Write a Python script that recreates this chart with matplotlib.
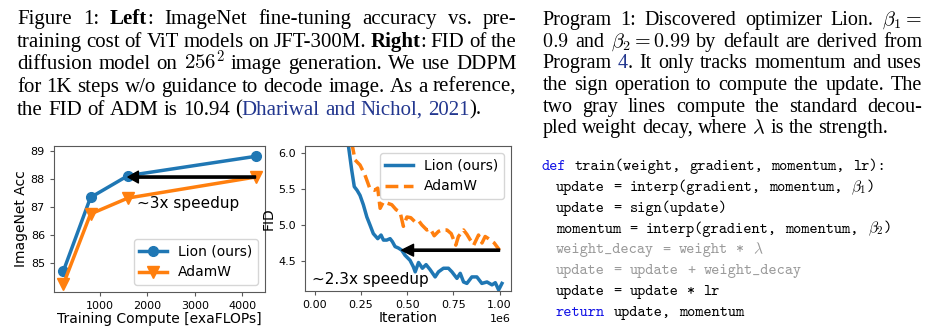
import matplotlib
matplotlib.use('Agg')
import numpy as np
import matplotlib.pyplot as plt
from matplotlib.transforms import IdentityTransform

plt.rcParams['mathtext.fontset'] = 'cm'

# ---- left panel: ViT on JFT-300M ----
compute = [230, 800, 1590, 4280]
lion_acc = [84.71, 87.33, 88.11, 88.80]
adamw_acc = [84.24, 86.74, 87.31, 88.06]

# ---- right panel: diffusion FID (iterations in millions) ----
lion_iter = [0.16, 0.199, 0.213, 0.228, 0.244, 0.262, 0.281, 0.298, 0.316, 0.340,
             0.358, 0.371, 0.389, 0.407, 0.419, 0.434, 0.452, 0.470, 0.488, 0.515,
             0.533, 0.543, 0.561, 0.582, 0.602, 0.624, 0.651, 0.669, 0.696, 0.723,
             0.742, 0.769, 0.787, 0.805, 0.823, 0.850, 0.877, 0.904, 0.932, 0.959,
             0.977, 0.995, 1.013]
lion_fid = [6.50, 5.76, 5.53, 5.48, 5.41, 5.28, 5.11, 5.00, 4.88, 4.81,
            4.86, 4.79, 4.79, 4.81, 4.77, 4.70, 4.68, 4.65, 4.58, 4.51,
            4.42, 4.35, 4.48, 4.40, 4.45, 4.38, 4.28, 4.35, 4.40, 4.40,
            4.35, 4.26, 4.33, 4.21, 4.19, 4.28, 4.28, 4.19, 4.21, 4.17,
            4.20, 4.10, 4.19]
adamw_iter = [0.18, 0.217, 0.244, 0.271, 0.298, 0.322, 0.340, 0.353, 0.371, 0.393,
              0.416, 0.440, 0.461, 0.479, 0.498, 0.519, 0.543, 0.561, 0.579, 0.606,
              0.624, 0.646, 0.669, 0.687, 0.715, 0.738, 0.763, 0.777, 0.805, 0.823,
              0.842, 0.860, 0.886, 0.905, 0.922, 0.940, 0.971, 1.000]
adamw_fid = [6.40, 5.90, 5.83, 5.69, 5.50, 5.48, 5.51, 5.23, 5.32, 5.30,
             5.28, 5.21, 5.18, 4.98, 5.11, 5.10, 5.04, 5.06, 5.00, 4.93,
             4.95, 4.85, 4.91, 4.93, 4.93, 4.88, 4.72, 4.84, 4.93, 4.87,
             4.79, 4.72, 4.86, 4.75, 4.84, 4.81, 4.75, 4.65]
fid_speedup_iter = 0.47
iter_ticks = [0, 0.25, 0.5, 0.75, 1.0]

# ---- text blocks ----
caption_lines = [
    [("Figure 1: ", "n"), ("Left", "b"), (": ImageNet fine-tuning accuracy vs. pre-", "n")],
    [("training cost of ViT models on JFT-300M. ", "n"), ("Right", "b"), (": FID of the", "n")],
    [("diffusion model on ", "n"), ("$256^2$", "m"), (" image generation. We use DDPM", "n")],
    [("for 1K steps w/o guidance to decode image. As a reference,", "n")],
    [("the FID of ADM is 10.94 (", "n"), ("Dhariwal and Nichol, 2021", "c"), (").", "n")],
]
program_lines = [
    [("Program 1: Discovered optimizer Lion. ", "n"), (r"$\beta_1 =$", "m")],
    [("$0.9$", "m"), (" and ", "n"), (r"$\beta_2 = 0.99$", "m"), (" by default are derived from", "n")],
    [("Program ", "n"), ("4", "c"), (". It only tracks momentum and uses", "n")],
    [("the sign operation to compute the update. The", "n")],
    [("two gray lines compute the standard decou-", "n")],
    [("pled weight decay, where ", "n"), (r"$\lambda$", "m"), (" is the strength.", "n")],
]
code_lines = [
    "def train(weight, gradient, momentum, lr):",
    r"  update = interp(gradient, momentum, $\beta_1$)",
    "  update = sign(update)",
    r"  momentum = interp(gradient, momentum, $\beta_2$)",
    r"  weight_decay = weight * $\lambda$",
    "  update = update + weight_decay",
    "  update = update * lr",
    "  return update, momentum",
]

BLUE = '#1f77b4'
ORANGE = '#ff7f0e'
CITE = '#23378f'
KEYWORD = '#1414e6'
GRAY = '#9a9a9a'

W, H = 936, 334
fig = plt.figure(figsize=(W / 100, H / 100), dpi=100)


def box(l, t, r, b):
    return [l / W, 1 - b / H, (r - l) / W, (b - t) / H]


def style_axes(ax):
    for sp in ax.spines.values():
        sp.set_color('0.35')
        sp.set_linewidth(0.8)
    ax.tick_params(labelsize=8, color='0.35', length=3)


# left panel
ax1 = fig.add_axes(box(54, 146, 265, 292))
ax1.plot(compute, lion_acc, '-o', color=BLUE, lw=2.5, ms=7, label='Lion (ours)')
ax1.plot(compute, adamw_acc, '-v', color=ORANGE, lw=2.5, ms=8, label='AdamW')
ax1.annotate('', xy=(compute[2], adamw_acc[-1]), xytext=(compute[-1], adamw_acc[-1]),
             arrowprops=dict(facecolor='black', edgecolor='black', width=1.6,
                             headwidth=8.5, headlength=7.5, shrink=0))
ax1.text(1790, 87.13, '\u223c3x speedup', fontsize=11, va='center')
ax1.set_xlim(30, 4480)
ax1.set_ylim(83.95, 89.17)
ax1.set_xticks([1000, 2000, 3000, 4000])
ax1.set_yticks([85, 86, 87, 88, 89])
ax1.set_xlabel('Training Compute [exaFLOPs]', fontsize=10, labelpad=1)
ax1.set_ylabel('ImageNet Acc', fontsize=10, labelpad=2)
ax1.legend(loc='lower right', fontsize=10)
style_axes(ax1)

# right panel
ax2 = fig.add_axes(box(305, 146, 511, 291))
ax2.plot(np.array(lion_iter) * 1e6, lion_fid, '-', color=BLUE, lw=2.5, label='Lion (ours)')
ax2.plot(np.array(adamw_iter) * 1e6, adamw_fid, '--', color=ORANGE, lw=2.5, label='AdamW')
ax2.annotate('', xy=(fid_speedup_iter * 1e6, adamw_fid[-1]),
             xytext=(adamw_iter[-1] * 1e6, adamw_fid[-1]),
             arrowprops=dict(facecolor='black', edgecolor='black', width=1.6,
                             headwidth=8.5, headlength=8.5, shrink=0))
ax2.text(-0.018e6, 4.247, '\u223c2.3x speedup', fontsize=11, va='center')
ax2.set_xlim(-0.054e6, 1.062e6)
ax2.set_ylim(4.085, 6.093)
ax2.set_xticks(np.array(iter_ticks) * 1e6)
ax2.set_yticks([4.5, 5.0, 5.5, 6.0])
ax2.xaxis.get_offset_text().set_fontsize(8)
ax2.set_xlabel('Iteration', fontsize=10, labelpad=1)
ax2.set_ylabel('FID', fontsize=10, labelpad=2)
ax2.legend(loc='upper right', fontsize=10)
style_axes(ax2)

# ---- text with justified lines ----
renderer = fig.canvas.get_renderer()
SERIF = 'Liberation Serif'
STYLE = {
    'n': dict(family=SERIF, color='black'),
    'b': dict(family=SERIF, color='black', weight='bold'),
    'c': dict(family=SERIF, color=CITE),
    'm': dict(family=SERIF, color='black'),
}


def words_of(line):
    words = [[]]
    for txt, st in line:
        if st == 'm':
            words[-1].append((txt, st))
            continue
        parts = txt.split(' ')
        for i, p in enumerate(parts):
            if i > 0:
                words.append([])
            if p:
                words[-1].append((p, st))
    return [w for w in words if w]


def measure(txt, size, **kw):
    t = fig.text(0, 0, txt, fontsize=size, transform=IdentityTransform(), **kw)
    w = t.get_window_extent(renderer).width
    return t, w


def paragraph(lines, x0, x1, baselines, size):
    t, w2 = measure('n n', size, family=SERIF)
    t.remove()
    t, w1 = measure('nn', size, family=SERIF)
    t.remove()
    space = w2 - w1
    for k, (line, yb) in enumerate(zip(lines, baselines)):
        words = words_of(line)
        placed = []
        for wd in words:
            pieces = [measure(txt, size, va='baseline', **STYLE[st]) for txt, st in wd]
            placed.append(pieces)
        total = sum(w for pieces in placed for _, w in pieces)
        last = k == len(lines) - 1
        gap = space if last else (x1 - x0 - total) / (len(words) - 1)
        x = x0
        for pieces in placed:
            for t, w in pieces:
                t.set_position((x, H - yb))
                x += w
            x += gap


paragraph(caption_lines, 17, 516.5, [24, 46.7, 69.3, 91.9, 114.6], 15)
paragraph(program_lines, 542.5, 922, [25, 46.7, 68.3, 90, 111.7, 133.3], 14.5)

# ---- code listing ----
CW = 8.2
code_x0 = 541.7
for i, line in enumerate(code_lines):
    yb = H - (170 + 20.85 * i)
    body = line.lstrip(' ')
    xstart = code_x0 + (14.3 if body != line else 0)
    col = 0
    color = GRAY if i in (4, 5) else 'black'
    for tok in body.split(' '):
        c = KEYWORD if tok in ('def', 'return') else color
        fig.text(xstart + col * CW, yb, tok, family='cmtt10', fontsize=11.2,
                 color=c, va='baseline', transform=IdentityTransform())
        n = len(tok) if '$' not in tok else 2 + len(tok.split('$')[-1])
        col += n + 1

fig.savefig('out.png', dpi=100)
